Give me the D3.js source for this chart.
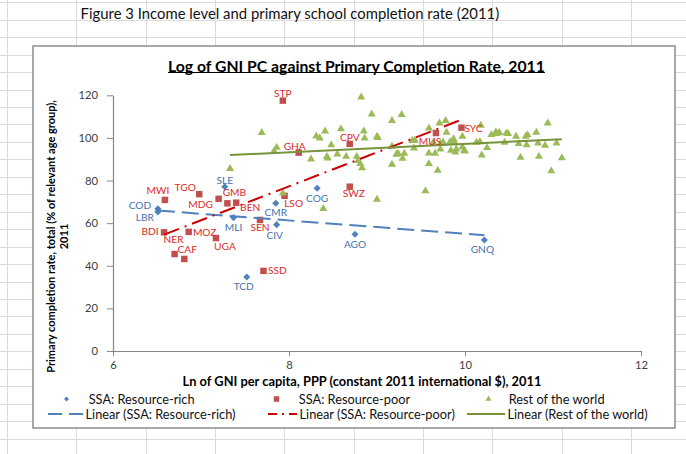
<!DOCTYPE html>
<html><head><meta charset="utf-8">
<script src="https://cdn.jsdelivr.net/npm/d3@7"></script>
<style>
html,body{margin:0;padding:0;background:#fff;}
svg{display:block;font-family:Lato,"Open Sans",sans-serif;}
</style></head>
<body>
<svg id="chart" width="686" height="454"></svg>
<script>
// ---------------- data ----------------
const figureTitle = "Figure 3 Income level and primary school completion rate (2011)";
const chartTitle = "Log of GNI PC against Primary Completion Rate, 2011";
const xTitle = "Ln of GNI per capita, PPP (constant 2011 international $), 2011";
const yTitleLines = ["Primary completion rate, total (% of relevant age group),", "2011"];
const xTicks = [6, 8, 10, 12];
const yTicks = [0, 20, 40, 60, 80, 100, 120];

const richCodes = ["COD","LBR","SLE","MLI","CMR","CIV","TCD","COG","AGO","GNQ"];
const richLnGni = [6.51,6.51,7.27,7.37,7.85,7.86,7.52,8.32,8.75,10.22];
const richCompletion = [66.7,65.3,77.1,62.6,69.3,59.3,34.7,76.4,54.8,52.1];

const poorCodes = ["STP","GHA","CPV","SWZ","MUS","SYC","LSO","MWI","TGO","MDG","GMB","BEN","SEN","BDI","MOZ","NER","CAF","UGA","SSD"];
const poorLnGni = [7.93,8.11,8.69,8.69,9.67,9.96,7.95,6.59,6.98,7.20,7.30,7.40,7.67,6.58,6.86,6.70,6.81,7.17,7.71];
const poorCompletion = [117.5,93.1,97.2,77.1,102.3,104.8,72.8,70.9,73.6,71.4,69.3,69.6,61.5,55.7,55.9,45.5,43.2,53.0,37.6];

const restLnGni = [7.69,8.31,8.35,8.41,8.59,7.86,7.83,8.48,8.25,8.43,8.44,8.55,8.65,7.33,8.39,7.93,
  8.82,8.94,9.28,9.17,8.85,9.00,9.01,8.86,8.77,8.78,8.81,8.83,9.17,9.17,9.22,9.24,9.31,9.29,9.42,9.43,9.40,
  9.59,9.59,9.59,9.66,9.69,9.55,9.00,9.71,9.78,9.79,9.64,9.72,9.75,9.72,9.83,9.87,9.88,9.84,9.89,9.90,9.97,
  9.99,10.00,9.97,10.18,10.13,10.17,10.25,10.19,10.30,10.35,10.36,10.39,10.47,10.49,10.45,10.58,10.61,10.69,
  10.71,10.70,10.63,10.81,10.83,10.91,10.94,10.84,10.98,11.04,11.10];
const restCompletion = [102.7,101.1,100.1,103.4,104.4,95.8,94.0,96.9,90.3,91.4,90.7,92.6,91.5,85.8,67.0,74.3,
  119.4,111.4,111.1,108.3,103.4,100.9,100.3,100.1,91.5,89.5,88.1,86.1,87.8,96.2,92.5,93.0,93.0,90.6,95.4,99.1,98.9,
  93.1,88.1,104.8,93.0,85.0,75.3,71.4,107.2,108.3,102.8,98.1,97.5,98.3,95.0,98.4,99.8,98.4,94.4,93.6,95.0,95.9,
  94.4,94.0,100.9,106.1,98.1,98.4,95.6,92.1,101.7,103.0,102.2,102.7,102.5,102.2,98.1,100.9,97.5,100.9,
  101.7,97.0,91.1,102.8,97.8,96.7,107.2,91.5,84.7,97.8,90.8];

const seriesNames = ["SSA: Resource-rich","SSA: Resource-poor","Rest of the world"];
const trendNames = ["Linear (SSA: Resource-rich)","Linear (SSA: Resource-poor)","Linear (Rest of the world)"];

// ---------------- layout / style (not data) ----------------
const labelOffset = {
  COD:[-18,-4], LBR:[-13,5], SLE:[0,-7], MLI:[0,9], CMR:[0,9], CIV:[-2,10], TCD:[-3,9], COG:[0,10], AGO:[0,10], GNQ:[-2,9],
  STP:[0,-8], GHA:[-4,-7], CPV:[0,-7], SWZ:[4,6], MUS:[-6,8], SYC:[12,0], LSO:[9,7], MWI:[-7,-10], TGO:[-14,-7],
  MDG:[-18,5], GMB:[7,-11], BEN:[14,4], SEN:[0,7], BDI:[-14,-1], MOZ:[16,0], NER:[-1,-15], CAF:[3,-10], UGA:[9,8], SSD:[14,-1]
};
const colors = {
  rich:"#4F81BD", richLabel:"#4672AE", poor:"#C0504D", poorLabel:"#D92B2B", rest:"#9BBB59",
  richTrend:"#4F81BD", poorTrend:"#CC0000", restTrend:"#77933C"
};

const svg = d3.select("#chart");
const W = 686, H = 454;

// spreadsheet background grid
const gridG = svg.append("g");
const colLines = d3.range(0, 11).map(i => 7.5 + i * 69.33);
const rowLines = d3.range(0, 27).map(i => 2.8 + i * 17.45);
gridG.selectAll("line.c").data(colLines).join("line")
  .attr("x1", d => d).attr("x2", d => d).attr("y1", 0).attr("y2", H)
  .attr("stroke", "#dadada").attr("stroke-width", 1).attr("shape-rendering","crispEdges");
gridG.selectAll("line.r").data(rowLines).join("line")
  .attr("x1", 0).attr("x2", W).attr("y1", d => d).attr("y2", d => d)
  .attr("stroke", "#dadada").attr("stroke-width", 1).attr("shape-rendering","crispEdges");

function fitWidth(sel, target) {
  const fs = parseFloat(sel.attr("font-size"));
  const w = sel.node().getComputedTextLength();
  const nf = fs * target / w;
  sel.attr("font-size", nf.toFixed(2));
  return nf;
}
function sizeFor(str, target, weight) {
  const t = svg.append("text").attr("font-size", 10).attr("font-weight", weight || "normal").text(str);
  const w = t.node().getComputedTextLength();
  t.remove();
  return 10 * target / w;
}

// figure caption
const cap = svg.append("text").attr("x", 80.6).attr("y", 12.5).attr("dominant-baseline","central")
  .attr("font-size", 13.5).attr("fill", "#111").text(figureTitle);
fitWidth(cap, 419);

// chart frame
svg.append("rect").attr("x", 33).attr("y", 46).attr("width", 642).attr("height", 382)
  .attr("fill", "#fff").attr("stroke", "#8c8c8c").attr("stroke-width", 1.5);

// chart title (underlined)
const ttl = svg.append("text").attr("x", 356.5).attr("y", 65).attr("text-anchor","middle")
  .attr("dominant-baseline","central").attr("font-weight","bold").attr("font-size", 14)
  .attr("fill", "#000").text(chartTitle);
fitWidth(ttl, 377);
{
  const bb = ttl.node().getBBox();
  svg.append("line").attr("x1", bb.x).attr("x2", bb.x + bb.width)
    .attr("y1", 72.5).attr("y2", 72.5).attr("stroke", "#000").attr("stroke-width", 1);
}

// scales
const x = d3.scaleLinear().domain([6, 12]).range([113, 641]);
const y = d3.scaleLinear().domain([0, 120]).range([351, 95.3]);

// axes
const tickFs = sizeFor("120", 19.5);
const axisColor = "#868686";
const yAxis = svg.append("g").attr("transform", `translate(${x(6)},0)`)
  .call(d3.axisLeft(y).tickValues(yTicks).tickFormat(d3.format("d")).tickSize(6).tickSizeOuter(0).tickPadding(9));
const xAxis = svg.append("g").attr("transform", `translate(0,${y(0)})`)
  .call(d3.axisBottom(x).tickValues(xTicks).tickFormat(d3.format("d")).tickSize(5).tickSizeOuter(0).tickPadding(5));
[xAxis, yAxis].forEach(a => {
  a.select(".domain").attr("stroke", axisColor).attr("stroke-width", 1.2);
  a.selectAll(".tick line").attr("stroke", axisColor).attr("stroke-width", 1);
  a.selectAll(".tick text").attr("fill", "#404040").attr("font-size", tickFs.toFixed(2))
    .attr("font-family", "Lato, 'Open Sans', sans-serif");
});

// axis titles
const xt = svg.append("text").attr("x", 362).attr("y", 380.7).attr("text-anchor","middle")
  .attr("dominant-baseline","central").attr("font-weight","bold").attr("font-size", 11.5)
  .attr("fill","#000").text(xTitle);
fitWidth(xt, 359);
const ytG = svg.append("g");
const ytCx = [50, 63];
yTitleLines.forEach((t, i) => {
  const tt = ytG.append("text").attr("transform", `translate(${ytCx[i]},236.5) rotate(-90)`)
    .attr("text-anchor","middle").attr("dominant-baseline","central")
    .attr("font-weight","bold").attr("font-size", 11).attr("fill","#000").text(t);
  if (i === 0) fitWidth(tt, 273);
});
{
  const fs = ytG.select("text").attr("font-size");
  ytG.selectAll("text").attr("font-size", fs);
}

// symbols
const diamond = d3.symbol().type(d3.symbolSquare).size(25)();
const square = d3.symbol().type(d3.symbolSquare).size(42)();
const triangle = d3.symbol().type(d3.symbolTriangle).size(28)();

const rich = richCodes.map((c, i) => ({code: c, x: richLnGni[i], y: richCompletion[i]}));
const poor = poorCodes.map((c, i) => ({code: c, x: poorLnGni[i], y: poorCompletion[i]}));
const rest = restLnGni.map((v, i) => ({x: v, y: restCompletion[i]}));

// least-squares trend
function trend(pts) {
  const mx = d3.mean(pts, d => d.x), my = d3.mean(pts, d => d.y);
  const sxy = d3.sum(pts, d => (d.x - mx) * (d.y - my));
  const sxx = d3.sum(pts, d => (d.x - mx) ** 2);
  const b = sxy / sxx, a = my - b * mx;
  const [x0, x1] = d3.extent(pts, d => d.x);
  return [[x0, a + b * x0], [x1, a + b * x1]];
}

const plot = svg.append("g");
plot.selectAll("path.rich").data(rich).join("path")
  .attr("d", diamond).attr("transform", d => `translate(${x(d.x)},${y(d.y)}) rotate(45)`)
  .attr("fill", colors.rich);
plot.selectAll("path.poor").data(poor).join("path")
  .attr("d", square).attr("transform", d => `translate(${x(d.x)},${y(d.y)})`)
  .attr("fill", colors.poor);
plot.selectAll("path.rest").data(rest).join("path")
  .attr("d", triangle).attr("transform", d => `translate(${x(d.x)},${y(d.y) + 0.5})`)
  .attr("fill", colors.rest);

const line = d3.line().x(d => x(d[0])).y(d => y(d[1]));
const trends = [
  {pts: trend(rich), color: colors.richTrend, dash: "17,7"},
  {pts: trend(poor), color: colors.poorTrend, dash: "16,6,2,6"},
  {pts: trend(rest), color: colors.restTrend, dash: null}
];
trends.forEach(t => {
  plot.append("path").attr("d", line(t.pts)).attr("fill","none")
    .attr("stroke", t.color).attr("stroke-width", 2)
    .attr("stroke-dasharray", t.dash);
});

// data labels
const labFs = sizeFor("COD", 22.5);
const labG = svg.append("g").attr("font-size", labFs.toFixed(2));
labG.selectAll("text.rl").data(rich).join("text")
  .attr("x", d => x(d.x) + labelOffset[d.code][0]).attr("y", d => y(d.y) + labelOffset[d.code][1])
  .attr("text-anchor","middle").attr("dominant-baseline","central")
  .attr("fill", colors.richLabel).text(d => d.code);
labG.selectAll("text.pl").data(poor).join("text")
  .attr("x", d => x(d.x) + labelOffset[d.code][0]).attr("y", d => y(d.y) + labelOffset[d.code][1])
  .attr("text-anchor","middle").attr("dominant-baseline","central")
  .attr("fill", colors.poorLabel).text(d => d.code);

// legend
const legFs = sizeFor(seriesNames[0], 106);
const leg = svg.append("g").attr("font-size", legFs.toFixed(2)).attr("fill", "#111");
const legRow1 = 399, legRow2 = 414;
const legMarkerX = [66.5, 276.5, 488.5];
const legTextX1 = [88.7, 298.8, 508.7];
const legLineX = [[48, 84], [268, 297], [467, 505]];
const legTextX2 = [85.5, 299.5, 507.4];
const legMarkers = [
  d3.symbol().type(d3.symbolSquare).size(12)(),
  d3.symbol().type(d3.symbolSquare).size(30)(),
  d3.symbol().type(d3.symbolTriangle).size(16)()
];
const legColors = [colors.rich, colors.poor, colors.rest];
seriesNames.forEach((n, i) => {
  leg.append("path").attr("d", legMarkers[i])
    .attr("transform", `translate(${legMarkerX[i]},${legRow1})` + (i === 0 ? " rotate(45)" : ""))
    .attr("fill", legColors[i]);
  leg.append("text").attr("x", legTextX1[i]).attr("y", legRow1).attr("dominant-baseline","central").text(n);
});
trendNames.forEach((n, i) => {
  leg.append("line").attr("x1", legLineX[i][0]).attr("x2", legLineX[i][1])
    .attr("y1", legRow2).attr("y2", legRow2).attr("stroke", trends[i].color).attr("stroke-width", 2)
    .attr("stroke-dasharray", i === 0 ? "14,7" : (i === 1 ? "9,5,2,5" : null));
  leg.append("text").attr("x", legTextX2[i]).attr("y", legRow2).attr("dominant-baseline","central").text(n);
});
</script>
</body></html>
